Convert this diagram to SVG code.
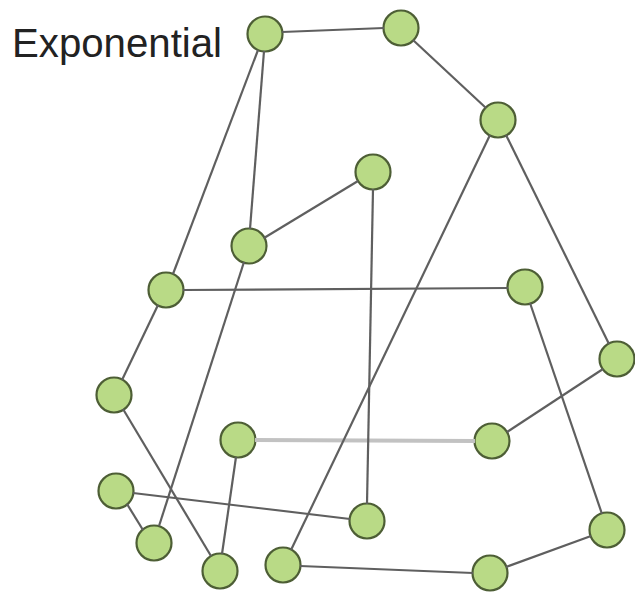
<svg xmlns="http://www.w3.org/2000/svg" width="635" height="598" viewBox="0 0 635 598">
<style>
.n{fill:#b9da86;stroke:#4d5e35;stroke-width:2.2}
.e{stroke:#5f5f5f;stroke-width:2.2;fill:none}
.l{stroke:#c2c2c2;stroke-width:4;fill:none}
text{font-family:"Liberation Sans",Arial,sans-serif;font-size:40px;fill:#222}
</style>
<rect width="635" height="598" fill="#fff"/>
<text x="12" y="57" textLength="210" lengthAdjust="spacingAndGlyphs">Exponential</text>
<g id="nodes">
<g id="n1"><circle class="n" cx="265" cy="34" r="17.5"/></g>
<g id="n2"><circle class="n" cx="401" cy="28" r="17.5"/></g>
<g id="n3"><circle class="n" cx="498" cy="120" r="17.5"/></g>
<g id="n4"><circle class="n" cx="373" cy="172" r="17.5"/></g>
<g id="n5"><circle class="n" cx="249" cy="246" r="17.5"/></g>
<g id="n6"><circle class="n" cx="166" cy="290" r="17.5"/></g>
<g id="n7"><circle class="n" cx="525" cy="287" r="17.5"/></g>
<g id="n8"><circle class="n" cx="617" cy="359" r="17.5"/></g>
<g id="n9"><circle class="n" cx="114" cy="395" r="17.5"/></g>
<g id="n10"><circle class="n" cx="238" cy="440" r="17.5"/></g>
<g id="n11"><circle class="n" cx="492" cy="441" r="17.5"/></g>
<g id="n12"><circle class="n" cx="116" cy="491" r="17.5"/></g>
<g id="n13"><circle class="n" cx="367" cy="521" r="17.5"/></g>
<g id="n14"><circle class="n" cx="607" cy="530" r="17.5"/></g>
<g id="n15"><circle class="n" cx="154" cy="543" r="17.5"/></g>
<g id="n16"><circle class="n" cx="220" cy="571" r="17.5"/></g>
<g id="n17"><circle class="n" cx="283" cy="565" r="17.5"/></g>
<g id="n18"><circle class="n" cx="490" cy="573" r="17.5"/></g>
</g>
<g id="edges">
<line class="e" x1="282" y1="32" x2="384" y2="28"/>
<line class="e" x1="413" y1="40" x2="486" y2="108"/>
<line class="e" x1="258" y1="50" x2="173" y2="274"/>
<line class="e" x1="264" y1="51" x2="250" y2="229"/>
<line class="e" x1="264" y1="238" x2="358" y2="181"/>
<line class="e" x1="244" y1="262" x2="159" y2="526"/>
<line class="e" x1="183" y1="290" x2="508" y2="288"/>
<line class="e" x1="158" y1="305" x2="122" y2="380"/>
<line class="e" x1="123" y1="409" x2="211" y2="556"/>
<line class="e" x1="133" y1="493" x2="350" y2="519"/>
<line class="e" x1="127" y1="504" x2="143" y2="530"/>
<line class="l" x1="255" y1="440" x2="475" y2="441"/>
<line class="e" x1="236" y1="457" x2="222" y2="554"/>
<line class="e" x1="373" y1="189" x2="367" y2="504"/>
<line class="e" x1="490" y1="135" x2="291" y2="550"/>
<line class="e" x1="506" y1="135" x2="609" y2="344"/>
<line class="e" x1="530" y1="303" x2="602" y2="514"/>
<line class="e" x1="603" y1="369" x2="507" y2="432"/>
<line class="e" x1="300" y1="566" x2="473" y2="573"/>
<line class="e" x1="506" y1="567" x2="591" y2="536"/>
</g>
</svg>
